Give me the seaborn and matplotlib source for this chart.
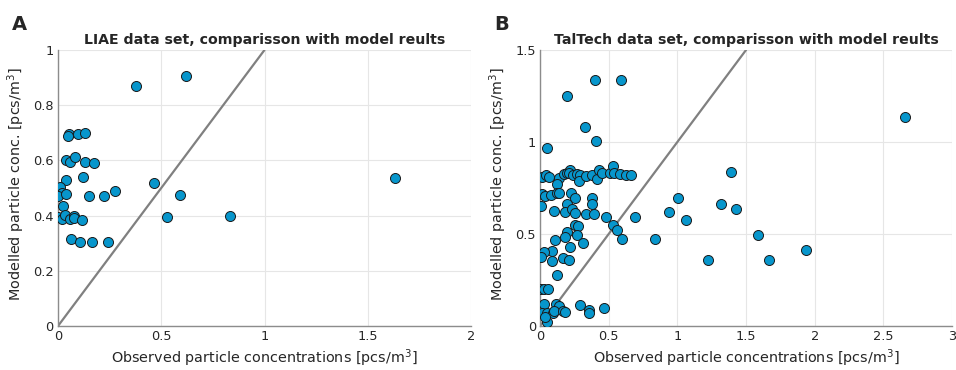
import matplotlib
matplotlib.use("Agg")
import matplotlib.pyplot as plt
import numpy as np
import pandas as pd
import seaborn as sns

# LIAE data set: observed vs modelled concentrations [pcs/m^3]
liae_obs = [0.053, 0.098, 0.129, 0.037, 0.060, 0.084, 0.131, 0.176, 0.037, 0.121,
            0.011, 0.019, 0.002, 0.037, 0.152, 0.224, 0.274, 0.465, 0.589, 0.528,
            0.833, 0.024, 0.000, 0.018, 0.032, 0.058, 0.079, 0.077, 0.118, 0.063,
            0.105, 0.166, 0.240, 0.378, 0.620, 1.632, 0.050]
liae_mod = [0.695, 0.695, 0.698, 0.601, 0.593, 0.613, 0.593, 0.592, 0.528, 0.541,
            0.503, 0.481, 0.471, 0.477, 0.471, 0.471, 0.489, 0.517, 0.476, 0.394,
            0.400, 0.435, 0.396, 0.387, 0.401, 0.387, 0.400, 0.390, 0.385, 0.315,
            0.303, 0.303, 0.303, 0.870, 0.906, 0.536, 0.690]

# TalTech data set: observed vs modelled concentrations [pcs/m^3]
tal_obs = [0.403, 0.587, 0.194, 0.330, 0.410, 0.049,
           0.012, 0.044, 0.068, 0.141, 0.177, 0.194, 0.218, 0.211, 0.238, 0.267,
           0.294, 0.286, 0.335, 0.378, 0.412, 0.427, 0.449, 0.509, 0.534, 0.538,
           0.582, 0.626, 0.662, 0.126,
           0.015, 0.036, 0.080, 0.121, 0.138, 0.228, 0.257, 0.378, 0.381, 0.010,
           0.194, 0.104, 0.182, 0.230, 0.257, 0.335, 0.393, 0.480, 0.694, 0.937,
           1.004, 1.060, 1.317, 1.390, 1.427,
           0.255, 0.279, 0.534, 0.563, 0.597, 0.197, 0.180, 0.272, 0.310, 0.112,
           0.218, 0.085, 0.085, 0.029, 0.007, 0.165, 0.209, 0.126, 0.840, 1.225,
           1.589, 1.938, 1.667, 2.657,
           0.007, 0.031, 0.060,
           0.029, 0.116, 0.138, 0.012, 0.048, 0.092, 0.104, 0.170, 0.182, 0.048,
           0.036, 0.291, 0.356, 0.359, 0.463]
tal_mod = [1.338, 1.338, 1.249, 1.080, 1.007, 0.967,
           0.810, 0.820, 0.807, 0.805, 0.824, 0.830, 0.846, 0.830, 0.820, 0.824,
           0.818, 0.786, 0.815, 0.818, 0.800, 0.848, 0.830, 0.829, 0.869, 0.829,
           0.824, 0.820, 0.820, 0.770,
           0.718, 0.705, 0.714, 0.723, 0.723, 0.723, 0.694, 0.694, 0.664, 0.651,
           0.662, 0.624, 0.618, 0.638, 0.615, 0.611, 0.611, 0.591, 0.591, 0.618,
           0.694, 0.578, 0.662, 0.838, 0.636,
           0.547, 0.543, 0.547, 0.520, 0.474, 0.512, 0.484, 0.495, 0.453, 0.466,
           0.430, 0.407, 0.354, 0.400, 0.375, 0.368, 0.356, 0.275, 0.474, 0.356,
           0.496, 0.415, 0.356, 1.135,
           0.200, 0.200, 0.200,
           0.120, 0.120, 0.107, 0.069, 0.069, 0.069, 0.083, 0.083, 0.074, 0.024,
           0.051, 0.114, 0.085, 0.072, 0.096]

panels = [
    dict(obs=liae_obs, mod=liae_mod, letter="A",
         title="LIAE data set, comparisson with model reults",
         xlim=2, ylim=1, xticks=[0, 0.5, 1, 1.5, 2], yticks=[0, 0.2, 0.4, 0.6, 0.8, 1],
         xlabels=["0", "0.5", "1", "1.5", "2"], ylabels=["0", "0.2", "0.4", "0.6", "0.8", "1"],
         rect=[0.0607, 0.119, 0.432, 0.746], ylab_x=-0.075),
    dict(obs=tal_obs, mod=tal_mod, letter="B",
         title="TalTech data set, comparisson with model reults",
         xlim=3, ylim=1.5, xticks=[0, 0.5, 1, 1.5, 2, 2.5, 3], yticks=[0, 0.5, 1, 1.5],
         xlabels=["0", "0.5", "1", "1.5", "2", "2.5", "3"], ylabels=["0", "0.5", "1", "1.5"],
         rect=[0.5649, 0.119, 0.431, 0.746], ylab_x=-0.075),
]

sns.set_style("whitegrid")
plt.rcParams["font.family"] = ["DejaVu Sans"]

fig = plt.figure(figsize=(9.56, 3.70), dpi=100)
fill = "#0796cc"
spine_col = "#8c8c8c"
text_col = "#262626"

for p in panels:
    ax = fig.add_axes(p["rect"])
    df = pd.DataFrame({"obs": p["obs"], "mod": p["mod"]})
    lim = min(p["xlim"], p["ylim"])
    ax.plot([0, lim], [0, lim], color="#808080", lw=1.6, zorder=2)
    sns.scatterplot(data=df, x="obs", y="mod", ax=ax, s=52, color=fill,
                    edgecolor="#1a1a1a", linewidth=0.7, zorder=3, legend=False)
    ax.set_xlim(0, p["xlim"])
    ax.set_ylim(0, p["ylim"])
    ax.set_xticks(p["xticks"])
    ax.set_xticklabels(p["xlabels"])
    ax.set_yticks(p["yticks"])
    ax.set_yticklabels(p["ylabels"])
    ax.grid(True, color="#e6e6e6", lw=0.8)
    for side in ("top", "right"):
        ax.spines[side].set_visible(False)
    for side in ("left", "bottom"):
        ax.spines[side].set_color(spine_col)
        ax.spines[side].set_linewidth(1.0)
    ax.tick_params(direction="in", length=3, width=0.8, color=spine_col,
                   labelsize=9.3, labelcolor=text_col, pad=3)
    ax.set_xlabel("Observed particle concentrations [pcs/m$^3$]", fontsize=10.4,
                  color=text_col, labelpad=3)
    ax.set_ylabel("Modelled particle conc. [pcs/m$^3$]", fontsize=10.4,
                  color=text_col)
    ax.yaxis.set_label_coords(p["ylab_x"], 0.515)
    ax.set_title(p["title"], fontsize=10.2, fontweight="bold", pad=4)
    x0 = p["rect"][0]
    fig.text(x0 - 0.048, 0.935, p["letter"], fontsize=14, fontweight="bold",
             ha="left", va="center")

fig.savefig("out.png", dpi=100)
